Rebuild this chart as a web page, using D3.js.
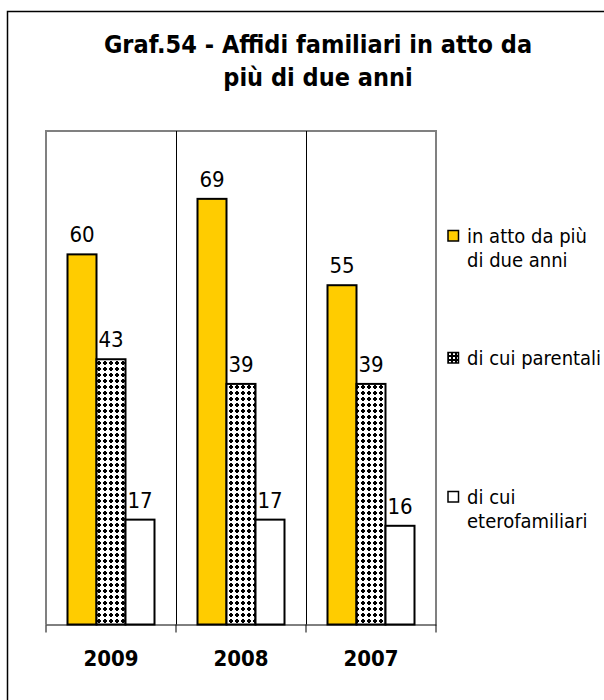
<!DOCTYPE html>
<html><head><meta charset="utf-8">
<script src="https://cdn.jsdelivr.net/npm/d3@7/dist/d3.min.js"></script>
<style>
html,body{margin:0;padding:0;background:#fff;}
svg{display:block;}
text{font-family:"DejaVu Sans Condensed","DejaVu Sans",sans-serif;font-stretch:condensed;}
</style></head>
<body>
<svg id="c" width="604" height="700"></svg>
<script>
const categories = ["2009", "2008", "2007"];
const seriesNames = ["in atto da più di due anni", "di cui parentali", "di cui eterofamiliari"];
const inAtto = [60, 69, 55];
const parentali = [43, 39, 39];
const eterofamiliari = [17, 17, 16];
const titleLines = ["Graf.54 - Affidi familiari in atto da", "più di due anni"];
const legendLines = [["in atto da più", "di due anni"], ["di cui parentali"], ["di cui", "eterofamiliari"]];

(function(){
const series = [inAtto, parentali, eterofamiliari];
const svg = d3.select("#c");

const defs = svg.append("defs");
const pat = defs.append("pattern").attr("id","dots").attr("patternUnits","userSpaceOnUse")
  .attr("width",6).attr("height",6);
pat.append("rect").attr("width",6).attr("height",6).attr("fill","#fff");
pat.append("rect").attr("x",1).attr("y",2).attr("width",4).attr("height",2).attr("fill","#000");
pat.append("rect").attr("x",2).attr("y",1).attr("width",2).attr("height",4).attr("fill","#000");
const pat2 = defs.append("pattern").attr("id","dotsInv").attr("patternUnits","userSpaceOnUse")
  .attr("width",4).attr("height",4);
pat2.append("rect").attr("width",4).attr("height",4).attr("fill","#000");
pat2.append("rect").attr("x",1).attr("y",1).attr("width",2).attr("height",2).attr("fill","#fff");

const fills = ["#FFCC00", "url(#dots)", "#FFFFFF"];
const legendFills = ["#FFCC00", "url(#dotsInv)", "#FFFFFF"];

svg.append("rect").attr("x",7.5).attr("y",11.5).attr("width",700).attr("height",800)
  .attr("fill","none").attr("stroke","#000").attr("stroke-width",1.5);

svg.append("g").selectAll("text").data(titleLines).join("text")
  .attr("x",318).attr("y",(d,i)=>53+i*33).attr("text-anchor","middle")
  .attr("font-size",25).attr("font-weight","bold").attr("fill","#000").text(d=>d);

const pl=46, pr=436, pt=131, pb=624.5;
const x = d3.scaleBand().domain(categories).range([pl,pr]).padding(0);
const xi = d3.scaleBand().domain(d3.range(3)).range([21.5, x.bandwidth()-21.5]).padding(0);
const y = d3.scaleLinear().domain([0,80]).range([pb, pt]);

svg.append("path").attr("d",`M${pl},${pb}V${pt}H${pr}V${pb}`)
  .attr("fill","none").attr("stroke","#808080").attr("stroke-width",2);
svg.append("g").selectAll("line").data(categories.slice(1)).join("line")
  .attr("x1",d=>Math.round(x(d))+0.5).attr("x2",d=>Math.round(x(d))+0.5)
  .attr("y1",pt).attr("y2",pb).attr("stroke","#000").attr("stroke-width",1);

const g = svg.append("g");
categories.forEach((c,ci)=>{
  series.forEach((s,si)=>{
    g.append("rect")
      .attr("x",x(c)+xi(si)).attr("y",y(s[ci]))
      .attr("width",xi.bandwidth()).attr("height",y(0)-y(s[ci]))
      .attr("fill",fills[si]).attr("stroke","#000").attr("stroke-width",2);
    g.append("text")
      .attr("x",x(c)+xi(si)+xi.bandwidth()/2).attr("y",y(s[ci])-12)
      .attr("text-anchor","middle").attr("font-size",22).attr("fill","#000")
      .text(s[ci]);
  });
});

const ax = svg.append("g").attr("transform",`translate(0,${pb})`)
  .call(d3.axisBottom(x).tickSize(0).tickFormat(""));
ax.select(".domain").attr("stroke","#000").attr("stroke-width",1);
svg.append("g").selectAll("line").data(d3.range(categories.length+1)).join("line")
  .attr("x1",i=>pl+i*x.step()).attr("x2",i=>pl+i*x.step())
  .attr("y1",pb).attr("y2",pb+8).attr("stroke","#000").attr("stroke-width",1);
svg.append("g").selectAll("text").data(categories).join("text")
  .attr("x",d=>x(d)+x.bandwidth()/2).attr("y",666).attr("text-anchor","middle")
  .attr("font-size",22).attr("font-weight","bold").text(d=>d);

const legY = [243, 365, 504];
const lg = svg.append("g");
legendLines.forEach((lines,i)=>{
  lg.append("rect").attr("x",448).attr("y",legY[i]-12.5).attr("width",10.5).attr("height",10.5)
    .attr("fill",legendFills[i]).attr("stroke","#000").attr("stroke-width",1.5);
  lines.forEach((t,j)=>{
    lg.append("text").attr("x",467).attr("y",legY[i]+j*24).attr("font-size",20)
      .attr("fill","#000").text(t);
  });
});
})();
</script>
</body></html>
